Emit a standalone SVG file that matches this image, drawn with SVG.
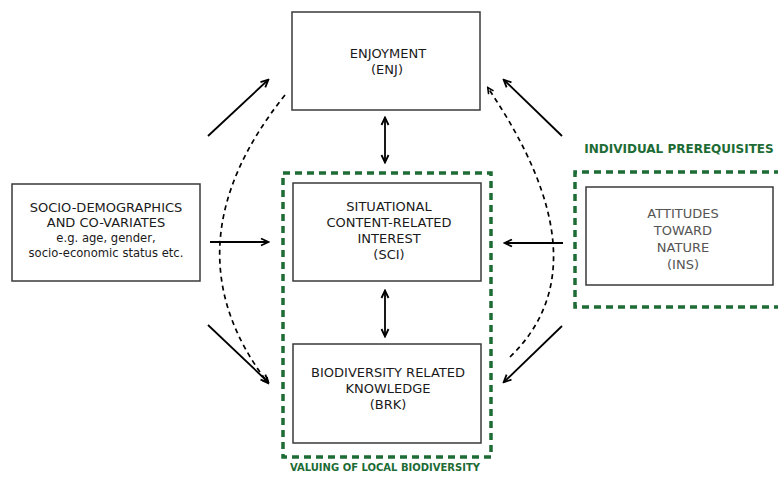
<svg xmlns="http://www.w3.org/2000/svg" width="778" height="480" viewBox="0 0 778 480">
  <style>
    .box { fill: #ffffff; stroke: #3a3a3a; stroke-width: 1.5; }
    .group { fill: none; stroke: #1d6b35; stroke-width: 3.5; stroke-dasharray: 7 5; }
    .lbl { font-family: "DejaVu Sans", Verdana, sans-serif; font-size: 13px; fill: #1a1a1a; text-anchor: middle; }
    .sub { font-size: 11.6px; }
    .grey { fill: #555555; }
    .title { font-family: "DejaVu Sans", Verdana, sans-serif; font-weight: bold; fill: #1d6b35; text-anchor: middle; }
    .link { fill: none; stroke: #000000; stroke-width: 1.8; }
    .dash { fill: none; stroke: #000000; stroke-width: 1.7; stroke-dasharray: 5 4; }
  </style>
  <defs>
    <marker id="head" markerWidth="10" markerHeight="10" refX="8" refY="5" orient="auto" markerUnits="userSpaceOnUse">
      <path d="M1,1.5 L8.5,5 L1,8.5" fill="none" stroke="#000" stroke-width="1.8"/>
    </marker>
    <marker id="tail" markerWidth="10" markerHeight="10" refX="2" refY="5" orient="auto" markerUnits="userSpaceOnUse">
      <path d="M9,1.5 L1.5,5 L9,8.5" fill="none" stroke="#000" stroke-width="1.8"/>
    </marker>
    <marker id="smallhead" markerWidth="8" markerHeight="8" refX="6" refY="4" orient="auto" markerUnits="userSpaceOnUse">
      <path d="M0.5,1 L6.5,4 L0.5,7" fill="none" stroke="#000" stroke-width="1.6"/>
    </marker>
  </defs>

  <!-- dashed group frames -->
  <g id="valuing-group">
    <rect class="group" x="283" y="173" width="208" height="284"/>
    <text class="title" x="385" y="471" font-size="10">VALUING OF LOCAL BIODIVERSITY</text>
  </g>
  <g id="prerequisites-group">
    <path class="group" d="M781,172 L575,172 L575,307 L781,307"/>
    <text class="title" x="679" y="153" font-size="12">INDIVIDUAL PREREQUISITES</text>
  </g>

  <!-- connectors -->
  <g id="connectors">
    <!-- covariates -->
    <line class="link" x1="208" y1="136" x2="268" y2="80" marker-end="url(#head)"/>
    <line class="link" x1="210" y1="242" x2="268" y2="242" marker-end="url(#head)"/>
    <line class="link" x1="208" y1="325" x2="268" y2="382" marker-end="url(#head)"/>
    <!-- attitudes -->
    <line class="link" x1="562" y1="136" x2="504" y2="80" marker-end="url(#head)"/>
    <line class="link" x1="563" y1="243" x2="505" y2="243" marker-end="url(#head)"/>
    <line class="link" x1="562" y1="326" x2="504" y2="382" marker-end="url(#head)"/>
    <!-- central links -->
    <line class="link" x1="385" y1="118" x2="385" y2="162" marker-start="url(#tail)" marker-end="url(#head)"/>
    <line class="link" x1="385" y1="291" x2="385" y2="336" marker-start="url(#tail)" marker-end="url(#head)"/>
    <!-- curved indirect paths -->
    <path class="dash" d="M285,95 Q163.5,247 268,383" marker-end="url(#smallhead)"/>
    <path class="dash" d="M510,357 Q607,263.5 488,88" marker-end="url(#smallhead)"/>
  </g>

  <g id="enj">
    <rect class="box" x="292" y="12" width="188" height="98"/>
    <text class="lbl" x="388" y="58">ENJOYMENT</text>
    <text class="lbl" x="387" y="74">(ENJ)</text>
  </g>

  <g id="sci">
    <rect class="box" x="293" y="183" width="188" height="98"/>
    <text class="lbl" x="389" y="211">SITUATIONAL</text>
    <text class="lbl" x="389" y="227">CONTENT-RELATED</text>
    <text class="lbl" x="389" y="243">INTEREST</text>
    <text class="lbl" x="389" y="259">(SCI)</text>
  </g>

  <g id="brk">
    <rect class="box" x="293" y="344" width="188" height="99"/>
    <text class="lbl" x="388" y="377">BIODIVERSITY RELATED</text>
    <text class="lbl" x="388" y="393">KNOWLEDGE</text>
    <text class="lbl" x="388" y="409">(BRK)</text>
  </g>

  <g id="covariates">
    <rect class="box" x="12" y="184" width="188" height="97"/>
    <text class="lbl" x="106" y="212">SOCIO-DEMOGRAPHICS</text>
    <text class="lbl" x="106" y="227">AND CO-VARIATES</text>
    <text class="lbl sub" x="106" y="242">e.g. age, gender,</text>
    <text class="lbl sub" x="106" y="257">socio-economic status etc.</text>
  </g>

  <g id="ins">
    <rect class="box" x="586" y="187" width="187" height="98"/>
    <text class="lbl grey" x="683" y="218">ATTITUDES</text>
    <text class="lbl grey" x="683" y="235">TOWARD</text>
    <text class="lbl grey" x="683" y="252">NATURE</text>
    <text class="lbl grey" x="683" y="269">(INS)</text>
  </g>
</svg>
